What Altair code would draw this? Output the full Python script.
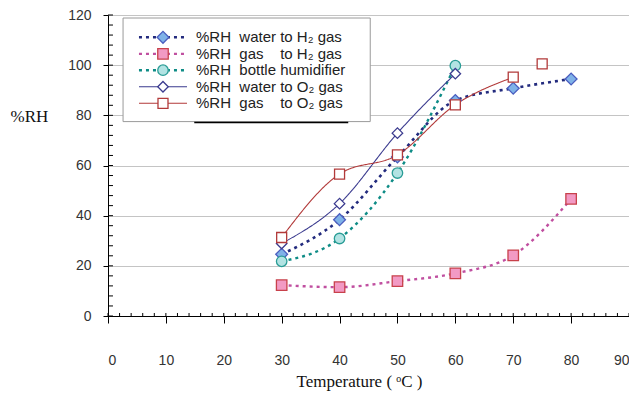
import altair as alt
import pandas as pd

# ---- data ----
temps_h2_water = [30, 40, 50, 60, 70, 80]
rh_h2_water = [24.6, 38.4, 63.4, 85.9, 90.8, 94.5]
temps_h2_gas = [30, 40, 50, 60, 70, 80]
rh_h2_gas = [12.3, 11.5, 13.9, 17.0, 24.2, 46.7]
temps_bottle = [30, 40, 50, 60]
rh_bottle = [21.8, 30.9, 57.0, 99.8]
temps_o2_water = [30, 40, 50, 60]
rh_o2_water = [28.9, 44.8, 72.9, 96.6]
temps_o2_gas = [30, 40, 50, 60, 70]
rh_o2_gas = [31.3, 56.6, 64.2, 84.2, 95.2]
temps_o2_gas_extra = [75]
rh_o2_gas_extra = [100.5]

NB = "\u00a0"
series_names = [
    f"%RH{NB}{NB}water to H₂ gas",
    f"%RH{NB}{NB}gas{NB}{NB}{NB}{NB}to H₂ gas",
    f"%RH{NB}{NB}bottle humidifier",
    f"%RH{NB}{NB}water to O₂ gas",
    f"%RH{NB}{NB}gas{NB}{NB}{NB}{NB}to O₂ gas",
]

x_ticks = [0, 10, 20, 30, 40, 50, 60, 70, 80, 90]
y_ticks = [0, 20, 40, 60, 80, 100, 120]
x_minor = list(range(0, 91, 2))
y_minor = list(range(0, 121, 4))

# legend row positions (in chart units)
legend_rows = [111.1, 104.5, 98.0, 91.4, 84.8]

# ---- styles ----
styles = [
    dict(line="#232B7E", width=2.6, dash=[3, 4], shape="diamond", fill="#7FB2E8", stroke="#4A5DBF", size=140),
    dict(line="#C04FA0", width=2.4, dash=[3, 4], shape="square", fill="#F29AC4", stroke="#C8414B", size=110),
    dict(line="#0E8C86", width=2.4, dash=[3, 4], shape="circle", fill="#B2E3E3", stroke="#2A9D96", size=110),
    dict(line="#3B3B8F", width=1.1, dash=[1, 0], shape="diamond", fill="white", stroke="#3B3B8F", size=110),
    dict(line="#B23A3A", width=1.1, dash=[1, 0], shape="square", fill="white", stroke="#B23A3A", size=100),
]

xs = alt.Scale(domain=[0, 90], nice=False, zero=False)
ys = alt.Scale(domain=[0, 120], nice=False, zero=False)

xaxis = alt.Axis(
    values=x_ticks, title="Temperature ( ᵒC )", grid=False,
    domainColor="black", tickColor="black", tickSize=7, labelPadding=30,
    labelFont="Liberation Sans", labelFontSize=14, labelColor="#333",
    titleFont="Liberation Serif", titleFontSize=17, titleFontWeight="normal",
    titleColor="#111", titleX=251, titleY=65, titleAlign="center", titleBaseline="middle",
)
yaxis = alt.Axis(
    values=y_ticks, title="%RH", grid=True, gridColor="#C4C4C4", gridWidth=1,
    domainColor="black", tickColor="black", tickSize=5, labelPadding=12,
    labelFont="Liberation Sans", labelFontSize=14, labelColor="#333",
    titleFont="Liberation Serif", titleFontSize=17, titleFontWeight="normal",
    titleColor="#111", titleAngle=0, titleX=-79, titleY=101,
    titleAlign="center", titleBaseline="middle",
)


def X(f):
    return alt.X(f"{f}:Q", scale=xs, axis=xaxis)


def Y(f):
    return alt.Y(f"{f}:Q", scale=ys, axis=yaxis)


layers = []

# minor ticks
xm = pd.DataFrame({"t": x_minor, "y0": [0] * len(x_minor), "y1": [1.2] * len(x_minor)})
layers.append(alt.Chart(xm).mark_rule(color="black", strokeWidth=1).encode(
    x=X("t"), y=Y("y0"), y2="y1"))
ym = pd.DataFrame({"v": y_minor, "x0": [0] * len(y_minor), "x1": [0.86] * len(y_minor)})
layers.append(alt.Chart(ym).mark_rule(color="black", strokeWidth=1).encode(
    y=Y("v"), x=X("x0"), x2="x1"))

# legend box
box = pd.DataFrame({"x0": [2.6], "x1": [45.3], "y0": [77.5], "y1": [118.8]})
layers.append(alt.Chart(box).mark_rect(fill="white", stroke="#9A9A9A", strokeWidth=1).encode(
    x=X("x0"), x2="x1", y=Y("y0"), y2="y1"))
shadow = pd.DataFrame({"x0": [14.9], "x1": [41.5], "y0": [77.1]})
layers.append(alt.Chart(shadow).mark_rule(color="black", strokeWidth=1.5).encode(
    x=X("x0"), x2="x1", y=Y("y0")))

series_data = [
    (temps_h2_water, rh_h2_water),
    (temps_h2_gas, rh_h2_gas),
    (temps_bottle, rh_bottle),
    (temps_o2_water, rh_o2_water),
    (temps_o2_gas, rh_o2_gas),
]

for (t, r), st in zip(series_data, styles):
    df = pd.DataFrame({"temp": t, "rh": r})
    layers.append(alt.Chart(df).mark_line(
        color=st["line"], strokeWidth=st["width"], strokeDash=st["dash"], interpolate="monotone"
    ).encode(x=X("temp"), y=Y("rh")))

for i, ((t, r), st) in enumerate(zip(series_data, styles)):
    df = pd.DataFrame({"temp": t, "rh": r})
    layers.append(alt.Chart(df).mark_point(
        shape=st["shape"], filled=True, fill=st["fill"], stroke=st["stroke"],
        strokeWidth=1.3, size=st["size"], opacity=1
    ).encode(x=X("temp"), y=Y("rh")))

extra = pd.DataFrame({"temp": temps_o2_gas_extra, "rh": rh_o2_gas_extra})
st = styles[4]
layers.append(alt.Chart(extra).mark_point(
    shape=st["shape"], filled=True, fill=st["fill"], stroke=st["stroke"],
    strokeWidth=1.3, size=st["size"], opacity=1
).encode(x=X("temp"), y=Y("rh")))

# legend entries
for name, yrow, st in zip(series_names, legend_rows, styles):
    row = pd.DataFrame({"x0": [5.35], "x1": [13.65], "xm": [9.5], "xt": [15.2], "y": [yrow], "label": [name]})
    layers.append(alt.Chart(row).mark_rule(
        color=st["line"], strokeWidth=st["width"], strokeDash=st["dash"]
    ).encode(x=X("x0"), x2="x1", y=Y("y")))
    layers.append(alt.Chart(row).mark_point(
        shape=st["shape"], filled=True, fill=st["fill"], stroke=st["stroke"],
        strokeWidth=1.3, size=st["size"], opacity=1
    ).encode(x=X("xm"), y=Y("y")))
    layers.append(alt.Chart(row).mark_text(
        align="left", baseline="middle", font="Liberation Sans", fontSize=15, color="#222"
    ).encode(x=X("xt"), y=Y("y"), text="label:N"))

chart = alt.layer(*layers).properties(
    width=521, height=301,
    padding={"left": 100, "top": 7, "right": 0, "bottom": 76},
    autosize=alt.AutoSizeParams(type="none"),
).configure_view(stroke="#C4C4C4", strokeWidth=1)

chart.save("out.html", embed_options={"renderer": "svg", "actions": False})
